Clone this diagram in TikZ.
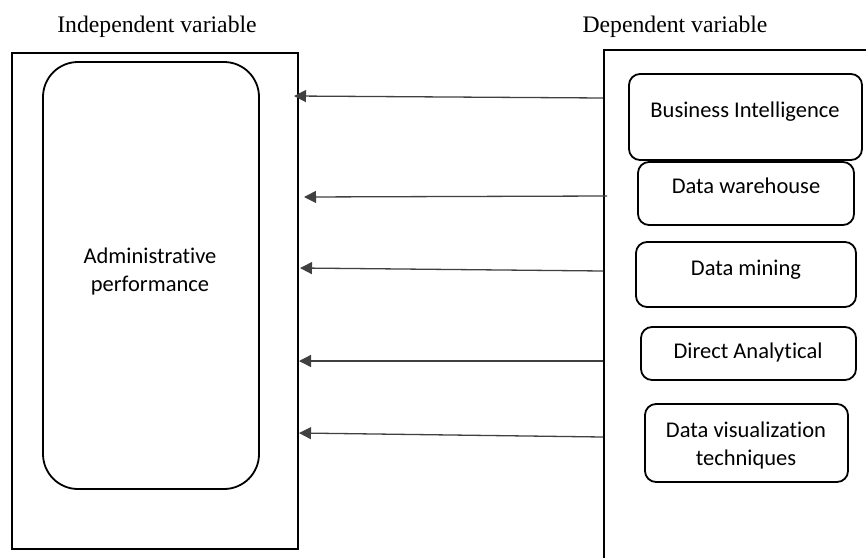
\documentclass[tikz,border=0pt]{standalone}
\usepackage{fontspec}
\setmainfont{Liberation Serif}
\newfontfamily\boxfont[Ligatures=NoCommon]{Carlito}
\usetikzlibrary{arrows.meta}
\begin{document}
\begin{tikzpicture}[x=1pt,y=-1pt,
  frame/.style={draw=black,line width=2pt},
  itembox/.style={draw=black,line width=1.8pt,rounded corners=11pt},
  itemtext/.style={font=\boxfont\fontsize{22.5}{28}\selectfont,anchor=base,inner sep=0pt,align=center},
  header/.style={font=\fontsize{23.7}{28}\selectfont,anchor=base,inner sep=0pt},
  link/.style={draw=black!75,line width=1.3pt,-{Triangle[length=12pt,width=12pt]}}
]
\useasboundingbox (0,0) rectangle (866,557);
\begin{scope}
\clip (0,0) rectangle (866,557);
% outer frames
\draw[frame] (12,53) rectangle (298,549);
\draw[frame] (604,50) rectangle (880,570);
% inner rounded rectangle
\draw[frame,line width=1.8pt,rounded corners=35pt] (43,62) rectangle (259,489);
\end{scope}
% headers
\node[header] (hind) at (157,32) {Independent variable};
\node[header] (hdep) at (675,32) {Dependent variable};
% main text (base anchor = last line)
\node[itemtext] (adm) at (150,291) {Administrative\\performance};
% item boxes
\draw[itembox] (629,74) rectangle (862,160);
\node[itemtext] (bi) at (745,117) {Business Intelligence};
\draw[itembox] (638,162) rectangle (854,225);
\node[itemtext] (dw) at (746,193) {Data warehouse};
\draw[itembox] (636,242) rectangle (856,307);
\node[itemtext] (dm) at (746,275) {Data mining};
\draw[itembox] (641,327) rectangle (856,380);
\node[itemtext] (da) at (748,358) {Direct Analytical};
\draw[itembox] (645,404) rectangle (848,482);
\node[itemtext] (dv) at (746,465) {Data visualization\\techniques};
% arrows
\coordinate (s1) at (603,98);  \coordinate (e1) at (294,96);
\coordinate (s2) at (607,196); \coordinate (e2) at (304,197);
\coordinate (s3) at (603,271); \coordinate (e3) at (300,268);
\coordinate (s4) at (603,361); \coordinate (e4) at (299,361);
\coordinate (s5) at (603,437); \coordinate (e5) at (299,433);
\draw[link] (s1) -- (e1);
\draw[link] (s2) -- (e2);
\draw[link] (s3) -- (e3);
\draw[link] (s4) -- (e4);
\draw[link] (s5) -- (e5);
\end{tikzpicture}
\end{document}
